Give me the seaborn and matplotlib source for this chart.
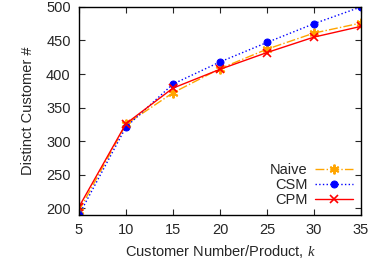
import pandas as pd
import matplotlib
matplotlib.use("Agg")
import matplotlib.pyplot as plt
import seaborn as sns

sns.set_theme(style="ticks")
plt.rcParams["font.family"] = ["Liberation Sans", "DejaVu Sans"]
plt.rcParams["mathtext.fontset"] = "custom"
plt.rcParams["mathtext.it"] = "Liberation Serif:italic"

k_values = [5, 10, 15, 20, 25, 30, 35]
naive = [196, 325, 372, 408, 437, 461, 476]
csm = [190, 321, 385, 418, 447, 475, 500]
cpm = [202, 326, 379, 407, 432, 455, 471]

series = {"Naive": naive, "CSM": csm, "CPM": cpm}
styles = {
    "Naive": dict(color="orange", linestyle="-.", marker=(6, 2, 0), markersize=7, markeredgewidth=1.4),
    "CSM": dict(color="blue", linestyle=":", marker="o", markersize=5),
    "CPM": dict(color="red", linestyle="-", marker="x", markersize=6, markeredgewidth=1.2),
}

df = pd.DataFrame(
    [(name, k, v) for name, vals in series.items() for k, v in zip(k_values, vals)],
    columns=["Method", "k", "Distinct"],
)

fig = plt.figure(figsize=(3.76, 2.66), dpi=100)
ax = fig.add_axes([0.21, 0.192, 0.75, 0.782])

for name in series:
    sub = df[df["Method"] == name]
    sns.lineplot(data=sub, x="k", y="Distinct", ax=ax, label=name,
                 linewidth=1, markeredgecolor=styles[name]["color"], **styles[name])

ax.set_xlim(5, 35)
ax.set_ylim(190, 500)
ax.set_xticks(k_values)
ax.set_yticks([200, 250, 300, 350, 400, 450, 500])
ax.tick_params(direction="in", top=True, right=True, labelsize=10.5, length=4, width=0.8, pad=6)
for s in ax.spines.values():
    s.set_color("black")
    s.set_linewidth(1)
ax.set_xlabel("Customer Number/Product, $k$", fontsize=10.5, labelpad=4)
ax.set_ylabel("Distinct Customer #", fontsize=10.5, labelpad=8)
ax.legend(loc="lower right", frameon=False, markerfirst=False, fontsize=10.5,
          handlelength=2.6, handletextpad=0.5, labelspacing=0.05, borderaxespad=0.15)

fig.savefig("out.png", dpi=100)
